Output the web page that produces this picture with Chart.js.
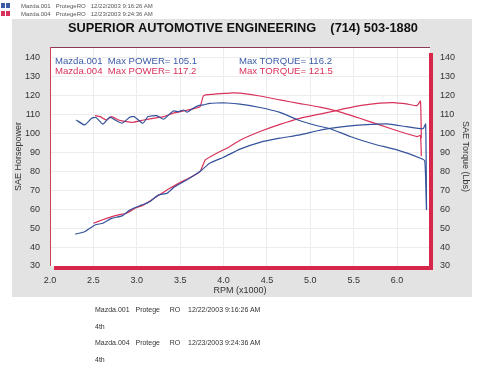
<!DOCTYPE html>
<html>
<head>
<meta charset="utf-8">
<script src="https://cdn.jsdelivr.net/npm/chart.js@4.4.1/dist/chart.umd.min.js"></script>
<style>
  html, body { margin:0; padding:0; background:#fff; }
  body { width:482px; height:367px; position:relative; overflow:hidden; font-family:"Liberation Sans", Arial, sans-serif; }
  #c { position:absolute; left:0; top:0; }
  .t { position:absolute; white-space:pre; line-height:1; }
  .hdr { font-size:6px; color:#555; }
  .sq { position:absolute; width:4px; height:5px; }
  .leg { font-size:9.6px; }
  .bot { font-size:7px; color:#333; }
</style>
</head>
<body>
<canvas id="c" width="482" height="367"></canvas>

<div class="sq" style="left:1px;top:3px;background:#3b5ba5"></div>
<div class="sq" style="left:6px;top:3px;background:#3b5ba5"></div>
<div class="sq" style="left:1px;top:11px;background:#d8325a"></div>
<div class="sq" style="left:6px;top:11px;background:#d8325a"></div>
<div class="t hdr" style="left:21px;top:3px">Mazda.001   ProtegeRO   12/22/2003 9:16:26 AM</div>
<div class="t hdr" style="left:21px;top:11px">Mazda.004   ProtegeRO   12/23/2003 9:24:36 AM</div>

<div class="t" style="left:68px;top:22px;font-size:12.8px;font-weight:bold;color:#111">SUPERIOR AUTOMOTIVE ENGINEERING    (714) 503-1880</div>

<div class="t leg" style="left:55px;top:56px;color:#3b5ba5">Mazda.001  Max POWER= 105.1</div>
<div class="t leg" style="left:239px;top:56px;color:#3b5ba5">Max TORQUE= 116.2</div>
<div class="t leg" style="left:55px;top:66px;color:#d8325a">Mazda.004  Max POWER= 117.2</div>
<div class="t leg" style="left:239px;top:66px;color:#d8325a">Max TORQUE= 121.5</div>

<div class="t bot" style="left:95px;top:306px">Mazda.001   Protege     RO    12/22/2003 9:16:26 AM</div>
<div class="t bot" style="left:95px;top:323px">4th</div>
<div class="t bot" style="left:95px;top:339px">Mazda.004   Protege     RO    12/23/2003 9:24:36 AM</div>
<div class="t bot" style="left:95px;top:356px">4th</div>

<script>
// ---- data ----
const blueTqRpm = [2.30,2.40,2.48,2.53,2.61,2.69,2.75,2.83,2.92,2.97,3.07,3.13,3.23,3.31,3.42,3.48,3.54,3.58,3.65,3.71,3.77,3.84,3.92,4.04,4.19,4.42,4.65,4.86,5.07,5.23,5.46,5.73,6.00,6.27,6.32,6.34];
const blueTq    = [107.2,104.6,108.1,108.5,105.0,108.7,107.2,105.5,108.7,109.0,105.5,109.0,109.5,107.6,112.0,111.6,112.5,111.3,113.4,114.8,115.2,116.0,116.2,116.2,115.6,113.8,111.2,107.2,104.3,102.6,98.5,94.5,91.4,87.0,85.6,60.0];

const redTqRpm = [2.52,2.58,2.65,2.71,2.79,2.88,2.96,3.08,3.19,3.31,3.42,3.54,3.65,3.73,3.77,3.88,4.04,4.11,4.19,4.42,4.65,4.88,5.11,5.30,5.57,5.80,6.03,6.23,6.27,6.28];
const redTq    = [109.5,109.0,107.2,109.0,107.2,106.3,106.0,107.2,108.1,109.0,110.8,112.0,113.1,114.3,120.1,120.8,121.3,121.5,121.4,119.9,117.8,115.9,114.0,112.0,108.1,104.6,101.1,98.4,99.0,88.0];

const blueHpRpm = [2.29,2.40,2.52,2.61,2.71,2.83,2.92,3.06,3.15,3.25,3.35,3.44,3.56,3.65,3.75,3.84,4.00,4.19,4.42,4.65,4.88,5.07,5.23,5.46,5.65,5.88,6.11,6.30,6.33,6.34];
const blueHp    = [46.8,48.1,51.7,52.6,55.2,56.5,59.6,62.3,64.0,67.6,68.5,72.0,75.1,77.6,80.8,84.3,87.5,91.8,95.4,97.6,99.3,101.4,102.8,104.1,104.8,105.1,103.7,102.6,105.1,59.6];

const redHpRpm = [2.50,2.60,2.69,2.79,2.88,2.98,3.08,3.17,3.29,3.38,3.50,3.61,3.73,3.79,3.92,4.07,4.19,4.42,4.65,4.88,5.11,5.30,5.57,5.80,5.96,6.11,6.23,6.27,6.28];
const redHp    = [52.6,54.3,55.7,57.0,57.9,60.5,62.3,64.9,68.5,71.1,74.1,76.7,79.9,86.1,89.6,93.1,96.5,101.1,104.9,108.1,110.3,112.2,114.8,116.1,116.4,115.7,114.8,117.2,97.6];

const xMin = 2.0, xMax = 6.38, xStep = 0.5;
const yMin = 30, yMax = 145.8, yStep = 10;

const BLUE = '#34529c', RED = '#d8325a';
const pts = (xs, ys) => xs.map((x, i) => ({x: x, y: ys[i]}));

const panelPlugin = {
  id: 'panel',
  beforeDraw(chart) {
    const ctx = chart.ctx, a = chart.chartArea;
    ctx.save();
    ctx.fillStyle = '#ffffff';
    ctx.fillRect(0, 0, chart.width, chart.height);
    ctx.fillStyle = '#e3e3e3';
    ctx.fillRect(12, 19, 460, 278);
    ctx.fillStyle = '#ffffff';
    ctx.fillRect(a.left, a.top, a.right - a.left, a.bottom - a.top);
    ctx.restore();
  },
  afterDraw(chart) {
    const ctx = chart.ctx, a = chart.chartArea;
    ctx.save();
    ctx.strokeStyle = '#8c3a55';
    ctx.lineWidth = 1;
    ctx.beginPath();
    ctx.moveTo(a.left, a.top + 0.5); ctx.lineTo(a.right, a.top + 0.5);
    ctx.stroke();
    ctx.strokeStyle = '#d0404f';
    ctx.beginPath();
    ctx.moveTo(a.left + 0.5, a.top); ctx.lineTo(a.left + 0.5, a.bottom);
    ctx.stroke();
    ctx.strokeStyle = '#d6264a';
    ctx.lineWidth = 4;
    ctx.beginPath();
    ctx.moveTo(a.left + 4, a.bottom + 2); ctx.lineTo(a.right + 3, a.bottom + 2);
    ctx.moveTo(a.right + 1, a.top + 6); ctx.lineTo(a.right + 1, a.bottom + 4);
    ctx.stroke();
    ctx.restore();
  }
};

const common = { fill: false, borderWidth: 1.2, pointRadius: 0, tension: 0.15 };

new Chart(document.getElementById('c'), {
  type: 'line',
  data: {
    datasets: [
      Object.assign({ label: 'Mazda.001 Torque', data: pts(blueTqRpm, blueTq), borderColor: BLUE, yAxisID: 'yR' }, common),
      Object.assign({ label: 'Mazda.001 Power',  data: pts(blueHpRpm, blueHp), borderColor: BLUE, yAxisID: 'y' }, common),
      Object.assign({ label: 'Mazda.004 Torque', data: pts(redTqRpm, redTq),   borderColor: RED,  yAxisID: 'yR' }, common),
      Object.assign({ label: 'Mazda.004 Power',  data: pts(redHpRpm, redHp),   borderColor: RED,  yAxisID: 'y' }, common)
    ]
  },
  options: {
    responsive: false,
    animation: false,
    layout: { padding: { left: 12, right: 10, top: 47, bottom: 70 } },
    plugins: { legend: { display: false }, tooltip: { enabled: false } },
    scales: {
      x: {
        type: 'linear', min: xMin, max: xMax,
        afterFit(s) { s.height = 31; },
        border: { display: false },
        grid: { color: '#ececec', lineWidth: 1, drawTicks: false },
        ticks: { stepSize: xStep, includeBounds: false, padding: 9, color: '#333',
                 font: { family: 'Liberation Sans', size: 9 },
                 callback: v => Number(v).toFixed(1) },
        title: { display: true, text: 'RPM (x1000)', color: '#333', padding: { top: 0, bottom: 1 },
                 font: { family: 'Liberation Sans', size: 9 } }
      },
      y: {
        position: 'left', min: yMin, max: yMax,
        afterFit(s) { s.width = 38; },
        border: { display: false },
        grid: { color: '#ececec', lineWidth: 1, drawTicks: false },
        ticks: { stepSize: yStep, includeBounds: false, padding: 10, color: '#333',
                 font: { family: 'Liberation Sans', size: 9 } },
        title: { display: true, text: 'SAE Horsepower', color: '#333', padding: { top: 1, bottom: 0 },
                 font: { family: 'Liberation Sans', size: 9 } }
      },
      yR: {
        position: 'right', min: yMin, max: yMax,
        afterFit(s) { s.width = 42; },
        border: { display: false },
        grid: { display: false, drawTicks: false },
        ticks: { stepSize: yStep, includeBounds: false, padding: 10, color: '#333',
                 font: { family: 'Liberation Sans', size: 9 } },
        title: { display: true, text: 'SAE Torque (Lbs)', color: '#333', padding: { top: 1, bottom: 0 },
                 font: { family: 'Liberation Sans', size: 9 } }
      }
    }
  },
  plugins: [panelPlugin]
});
</script>
</body>
</html>
